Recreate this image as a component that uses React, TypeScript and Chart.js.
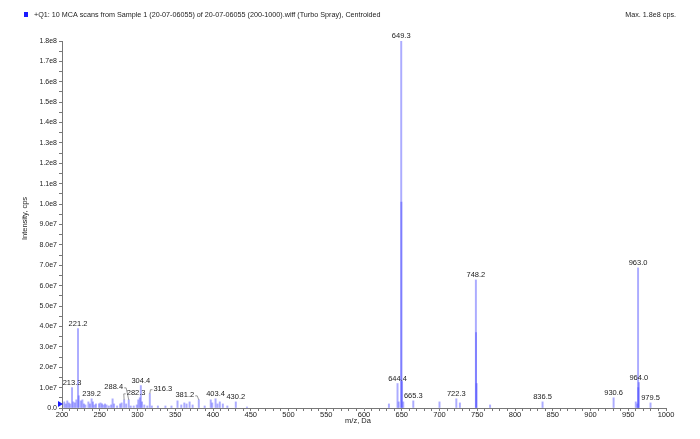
import React, { useEffect, useRef } from "react";
import { Chart, registerables } from "chart.js";

Chart.register(...registerables);

// ---- data ----
const mzValues = [
  203, 205, 207, 209, 211, 213.3, 215, 217, 219, 221.2, 222.2, 225, 227, 229, 231, 235, 237, 239.2, 241, 243,
  245, 249, 251, 253, 255, 257, 259, 262, 265, 267, 269, 273, 277, 279, 282.3, 285, 288.4, 291, 295, 299,
  301, 303, 304.4, 306, 309, 313, 316.3, 319, 327, 337, 345, 353, 358, 362, 365, 369, 373, 381.2, 389, 397,
  399, 403.4, 406, 409, 413, 419, 430.2, 445, 633, 644.4, 646, 649.3, 649.5, 650.4, 652, 665.3, 700, 722.3, 727, 748.2,
  748.4, 749.2, 767, 836.5, 930.6, 960, 962, 963.0, 963.2, 964.0, 979.5,
];
const intensities = [
  3.0e6, 2.0e6, 3.5e6, 2.5e6, 2.0e6, 1.0e7, 3.0e6, 2.5e6, 4.0e6, 3.9e7, 6.0e6, 3.5e6, 4.0e6, 2.0e6, 1.5e6, 3.0e6, 2.0e6, 4.5e6, 3.0e6, 1.5e6,
  2.0e6, 2.0e6, 2.5e6, 2.0e6, 1.5e6, 2.0e6, 1.5e6, 1.0e6, 1.5e6, 4.5e6, 2.0e6, 1.0e6, 2.0e6, 2.5e6, 4.0e6, 2.0e6, 4.0e6, 1.0e6, 1.0e6, 1.5e6,
  4.0e6, 5.0e6, 1.1e7, 3.0e6, 1.5e6, 1.0e6, 7.0e6, 1.0e6, 1.0e6, 1.0e6, 1.0e6, 3.5e6, 1.5e6, 2.5e6, 2.0e6, 3.0e6, 1.5e6, 4.0e6, 1.0e6, 4.0e6,
  2.5e6, 4.5e6, 2.0e6, 3.0e6, 2.0e6, 1.0e6, 3.0e6, 0.5e6, 2.0e6, 1.2e7, 3.0e6, 1.8e8, 1.01e8, 1.3e7, 3.0e6, 3.5e6, 3.0e6, 4.5e6, 2.5e6, 6.28e7,
  3.7e7, 1.2e7, 1.5e6, 3.0e6, 5.0e6, 3.0e6, 2.0e6, 6.87e7, 1.0e7, 1.25e7, 2.5e6,
];
const labelledPeaks = [213.3, 221.2, 239.2, 282.3, 288.4, 304.4, 316.3, 381.2, 403.4, 430.2, 644.4, 649.3, 665.3, 722.3, 748.2, 836.5, 930.6, 963.0, 964.0, 979.5];
// label offsets (px) from default position; non-zero ones get a leader line
const labelOffsets: [number, number][] = [
  [0, 0], [0, 0], [0, 0], [12, -2], [-15, -8], [0, 0], [13, 0], [-14, 0], [0, 0], [0, 0],
  [0, 0], [0, 0], [0, 0], [0, 0], [0, 0], [0, 0], [0, 0], [0, 0], [0, 0], [0, 0],
];
const xMin = 200;
const xMax = 1000;
const yMax = 1.8e8;
const titleText = "+Q1: 10 MCA scans from Sample 1 (20-07-06055) of 20-07-06055 (200-1000).wiff (Turbo Spray), Centroided";
const maxText = "Max. 1.8e8 cps.";
const xTitle = "m/z, Da";
const yTitle = "Intensity, cps";

const FONT = "'Liberation Sans', Arial, sans-serif";

function fmtY(v: number): string {
  if (v === 0) return "0.0";
  const e = Math.floor(Math.log10(v) + 1e-9);
  const m = v / Math.pow(10, e);
  return m.toFixed(1) + "e" + e;
}

const overlay = {
  id: "overlay",
  afterDatasetsDraw(chart: any) {
    const ctx = chart.ctx;
    const xs = chart.scales.x;
    const ys = chart.scales.y;
    ctx.save();
    ctx.font = `7.5px ${FONT}`;
    ctx.fillStyle = "#222";
    ctx.strokeStyle = "#555";
    ctx.lineWidth = 0.6;
    labelledPeaks.forEach((mz, i) => {
      const idx = mzValues.indexOf(mz);
      const val = intensities[idx];
      const px = xs.getPixelForValue(mz);
      const py = ys.getPixelForValue(val);
      const [dx, dy] = labelOffsets[i];
      const tx = px + dx;
      const ty = py - 1 + dy;
      const txt = mz.toFixed(1);
      ctx.textAlign = "center";
      ctx.textBaseline = "bottom";
      ctx.fillText(txt, tx, ty);
      if (dx !== 0 || dy !== 0) {
        const w = ctx.measureText(txt).width;
        const ex = dx > 0 ? tx - w / 2 - 1 : tx + w / 2 + 1;
        ctx.beginPath();
        ctx.moveTo(ex, ty - 3);
        ctx.lineTo(dx > 0 ? ex - 2 : ex + 2, ty - 3);
        ctx.lineTo(px, py);
        ctx.stroke();
      }
    });
    // precursor marker triangle
    const mx = xs.getPixelForValue(xMin);
    const my = ys.getPixelForValue(0);
    ctx.fillStyle = "#1a1aff";
    ctx.beginPath();
    ctx.moveTo(mx - 4, my - 7);
    ctx.lineTo(mx + 1, my - 4);
    ctx.lineTo(mx - 4, my - 1);
    ctx.closePath();
    ctx.fill();
    ctx.restore();
  },
  afterDraw(chart: any) {
    const ctx = chart.ctx;
    const area = chart.chartArea;
    ctx.save();
    ctx.fillStyle = "#1a1aff";
    ctx.fillRect(24, 12, 4, 5);
    ctx.fillStyle = "#222";
    ctx.font = `7.2px ${FONT}`;
    ctx.textBaseline = "middle";
    ctx.textAlign = "left";
    ctx.fillText(titleText, 34, 15);
    ctx.textAlign = "right";
    ctx.fillText(maxText, 676, 15);
    ctx.font = `7.5px ${FONT}`;
    ctx.textAlign = "center";
    ctx.fillText(xTitle, 358, 421);
    ctx.translate(25, (area.top + area.bottom) / 2 - 6);
    ctx.rotate(-Math.PI / 2);
    ctx.fillText(yTitle, 0, 0);
    ctx.restore();
  },
};

export default function App() {
  const ref = useRef<HTMLCanvasElement | null>(null);
  useEffect(() => {
    document.body.style.margin = "0";
    const canvas = ref.current;
    if (!canvas) return;
    const data = mzValues.map((x, i) => ({ x, y: intensities[i] }));
    const chart = new Chart(canvas, {
      type: "bar",
      data: {
        datasets: [
          {
            data: data as any,
            backgroundColor: "rgba(70,70,255,0.45)",
            borderWidth: 0,
            barThickness: 1.3,
          } as any,
        ],
      },
      options: {
        animation: false,
        responsive: false,
        maintainAspectRatio: false,
        layout: { padding: { left: 0, right: 34, top: 41, bottom: 0 } },
        plugins: { legend: { display: false }, tooltip: { enabled: false }, title: { display: false } },
        scales: {
          x: {
            type: "linear",
            min: xMin,
            max: xMax,
            offset: false,
            grid: { display: true, drawOnChartArea: false, drawTicks: true, tickLength: 3, color: "#777", offset: false },
            border: { display: true, color: "#777", width: 1 },
            ticks: {
              stepSize: 10,
              autoSkip: false,
              maxRotation: 0,
              padding: -1,
              color: "#222",
              font: { size: 7.5, family: FONT },
              callback: (v: any) => (Number(v) % 50 === 0 ? String(v) : ""),
            },
            afterFit: (s: any) => {
              s.height = 31;
            },
          },
          y: {
            min: 0,
            max: yMax,
            grid: { display: true, drawOnChartArea: false, drawTicks: true, tickLength: 3, color: "#777" },
            border: { display: true, color: "#777", width: 1 },
            ticks: {
              stepSize: 5e6,
              autoSkip: false,
              padding: 2,
              color: "#222",
              font: { size: 7, family: FONT },
              callback: (v: any) => (Math.round(Number(v) / 5e6) % 2 === 0 ? fmtY(Number(v)) : ""),
            },
            afterFit: (s: any) => {
              s.width = 62;
            },
          },
        },
      },
      plugins: [overlay],
    });
    return () => chart.destroy();
  }, []);
  return (
    <div style={{ width: 700, height: 439, background: "#fff" }}>
      <canvas ref={ref} width={700} height={439} style={{ display: "block" }} />
    </div>
  );
}
